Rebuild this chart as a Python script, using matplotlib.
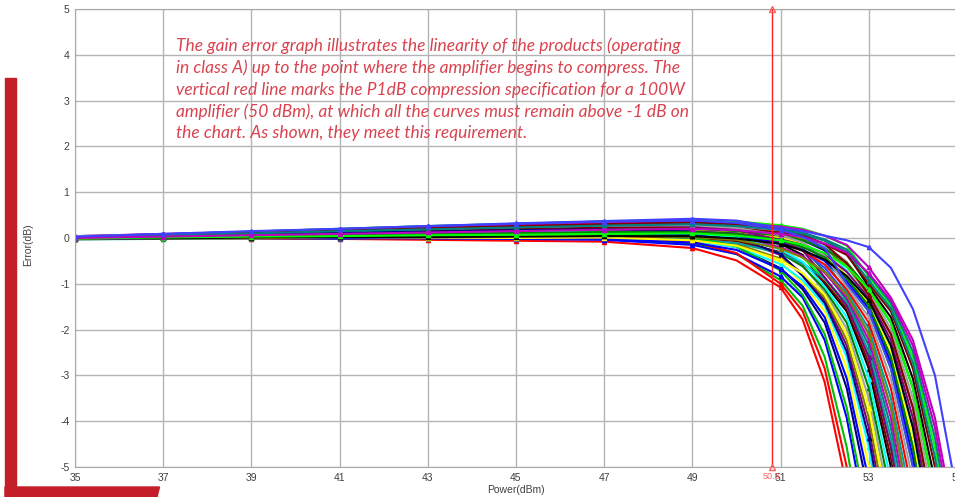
import matplotlib
matplotlib.use("Agg")
import matplotlib.pyplot as plt
from matplotlib.patches import Polygon, Rectangle

plt.rcParams["axes.unicode_minus"] = False

# measured power points (dBm)
power = [35, 37, 39, 41, 43, 45, 47, 49, 50, 51, 51.5, 52, 52.5, 53, 53.5, 54, 54.5, 55]

# gain error (dB) of each unit; a curve stops once it leaves the bottom
curves = [
    [0.01, -0.01, -0.02, -0.02, -0.04, -0.06, -0.08, -0.22, -0.49, -1.08, -1.78, -3.15, -5.42],
    [-0.02, 0.0, 0.01, 0.0, 0.02, 0.01, 0.0, -0.12, -0.35, -0.92, -1.48, -2.6, -4.57, -7.4],
    [0.02, 0.01, 0.0, 0.01, -0.01, -0.02, -0.04, -0.15, -0.35, -0.84, -1.3, -2.23, -3.93, -6.5],
    [0.0, 0.02, 0.03, 0.04, 0.05, 0.06, 0.06, -0.03, -0.2, -0.66, -1.12, -1.85, -3.28, -5.6],
    [0.01, 0.03, 0.04, 0.06, 0.08, 0.09, 0.1, 0.03, -0.12, -0.52, -1.0, -1.6, -2.85, -5.0, -8.0],
    [-0.01, 0.0, -0.01, 0.01, 0.0, 0.01, 0.0, -0.06, -0.2, -0.57, -0.92, -1.48, -2.6, -4.57, -7.4],
    [0.02, 0.04, 0.06, 0.08, 0.1, 0.12, 0.14, 0.09, -0.03, -0.37, -0.79, -1.36, -2.35, -4.14, -6.8],
    [-0.03, -0.01, 0.0, 0.02, 0.03, 0.04, 0.05, -0.01, -0.13, -0.45, -0.79, -1.3, -2.23, -3.93, -6.5],
    [0.01, 0.04, 0.07, 0.1, 0.13, 0.16, 0.19, 0.15, 0.04, -0.25, -0.59, -1.18, -1.98, -3.5, -5.9],
    [0.0, 0.01, 0.03, 0.05, 0.06, 0.08, 0.09, 0.05, -0.05, -0.33, -0.62, -1.12, -1.85, -3.28, -5.6],
    [0.03, 0.06, 0.1, 0.13, 0.17, 0.21, 0.24, 0.21, 0.12, -0.13, -0.37, -1.0, -1.6, -2.85, -5.0, -8.0],
    [0.02, 0.01, 0.03, 0.02, 0.04, 0.05, 0.05, 0.01, -0.07, -0.31, -0.55, -0.96, -1.54, -2.73, -4.79, -7.7],
    [-0.02, 0.01, 0.04, 0.06, 0.09, 0.12, 0.14, 0.11, 0.03, -0.2, -0.42, -0.89, -1.48, -2.6, -4.57, -7.4],
    [0.04, 0.08, 0.12, 0.16, 0.2, 0.25, 0.28, 0.27, 0.19, -0.02, -0.22, -0.73, -1.36, -2.35, -4.14, -6.8],
    [0.0, 0.02, 0.02, 0.04, 0.06, 0.07, 0.09, 0.07, 0.0, -0.2, -0.4, -0.76, -1.3, -2.23, -3.93, -6.5],
    [0.01, 0.03, 0.06, 0.09, 0.12, 0.15, 0.18, 0.17, 0.11, -0.08, -0.28, -0.65, -1.24, -2.1, -3.71, -6.2],
    [0.03, 0.08, 0.13, 0.18, 0.23, 0.28, 0.32, 0.32, 0.26, 0.08, -0.1, -0.49, -1.18, -1.98, -3.5, -5.9],
    [-0.01, 0.02, 0.04, 0.07, 0.09, 0.11, 0.13, 0.13, 0.07, -0.1, -0.28, -0.58, -1.12, -1.85, -3.28, -5.6],
    [0.02, 0.05, 0.09, 0.12, 0.16, 0.2, 0.23, 0.23, 0.18, 0.03, -0.13, -0.37, -1.0, -1.6, -2.85, -5.0, -8.0],
    [0.01, 0.0, 0.02, 0.04, 0.05, 0.07, 0.08, 0.08, 0.03, -0.11, -0.26, -0.5, -0.95, -1.54, -2.73, -4.79, -7.7],
    [0.0, 0.05, 0.1, 0.14, 0.19, 0.23, 0.27, 0.28, 0.24, 0.1, -0.05, -0.27, -0.86, -1.48, -2.6, -4.57, -7.4],
    [0.03, 0.04, 0.07, 0.1, 0.13, 0.16, 0.18, 0.19, 0.14, 0.01, -0.13, -0.35, -0.83, -1.42, -2.48, -4.36, -7.1],
    [0.02, 0.07, 0.12, 0.17, 0.22, 0.27, 0.31, 0.34, 0.29, 0.17, 0.03, -0.17, -0.71, -1.36, -2.35, -4.14, -6.8],
    [-0.02, 0.0, 0.03, 0.06, 0.08, 0.11, 0.13, 0.14, 0.1, -0.03, -0.15, -0.35, -0.74, -1.3, -2.23, -3.93, -6.5],
    [0.01, 0.04, 0.08, 0.11, 0.15, 0.19, 0.22, 0.24, 0.2, 0.08, -0.03, -0.23, -0.62, -1.24, -2.1, -3.71, -6.2],
    [0.03, 0.06, 0.1, 0.15, 0.19, 0.23, 0.27, 0.29, 0.25, 0.14, 0.03, -0.15, -0.52, -1.18, -1.98, -3.5, -5.9],
    [0.0, 0.03, 0.06, 0.09, 0.12, 0.15, 0.18, 0.2, 0.15, 0.05, -0.05, -0.23, -0.54, -1.12, -1.85, -3.28, -5.6],
    [0.02, 0.07, 0.12, 0.17, 0.22, 0.27, 0.31, 0.35, 0.31, 0.21, 0.11, -0.05, -0.34, -1.06, -1.73, -3.07, -5.3],
    [-0.01, 0.03, 0.07, 0.11, 0.15, 0.19, 0.23, 0.25, 0.21, 0.12, 0.03, -0.13, -0.37, -1.0, -1.6, -2.85, -5.0, -8.0],
    [0.03, 0.08, 0.14, 0.2, 0.26, 0.31, 0.36, 0.4, 0.36, 0.28, 0.2, 0.05, -0.17, -0.84, -1.48, -2.6, -4.57, -7.4],
    [0.0, 0.05, 0.1, 0.14, 0.19, 0.24, 0.27, 0.3, 0.27, 0.19, 0.11, -0.03, -0.25, -0.8, -1.42, -2.48, -4.36, -7.1],
    [0.04, 0.09, 0.13, 0.18, 0.23, 0.28, 0.32, 0.35, 0.32, 0.25, 0.18, 0.05, -0.15, -0.64, -1.3, -2.23, -3.93, -6.5],
    [0.02, 0.08, 0.14, 0.2, 0.26, 0.32, 0.37, 0.42, 0.38, 0.22, 0.15, 0.05, -0.05, -0.2, -0.65, -1.55, -3.0, -5.6],
    [-0.03, -0.02, 0.0, -0.01, 0.01, 0.0, -0.01, -0.03, -0.11, -0.33, -0.55, -0.89, -1.42, -2.48, -4.36, -7.1],
    [0.0, 0.01, 0.02, 0.03, 0.03, 0.04, 0.04, -0.08, -0.33, -1.0, -1.6, -2.85, -5.0, -8.0],
    [0.02, 0.03, 0.05, 0.06, 0.08, 0.09, 0.1, 0.01, -0.18, -0.71, -1.24, -2.1, -3.71, -6.2],
    [-0.02, -0.01, 0.0, -0.01, 0.0, -0.01, -0.02, -0.1, -0.26, -0.68, -1.06, -1.73, -3.07, -5.3],
    [0.03, 0.05, 0.08, 0.11, 0.14, 0.17, 0.19, 0.14, 0.01, -0.35, -0.83, -1.42, -2.48, -4.36, -7.1],
    [0.01, -0.01, 0.0, 0.02, 0.01, 0.0, 0.01, -0.05, -0.17, -0.48, -0.77, -1.24, -2.1, -3.71, -6.2],
    [-0.01, 0.02, 0.05, 0.07, 0.1, 0.12, 0.14, 0.11, 0.01, -0.25, -0.52, -1.06, -1.73, -3.07, -5.3],
    [0.02, 0.07, 0.11, 0.16, 0.2, 0.24, 0.28, 0.26, 0.18, -0.05, -0.27, -0.86, -1.48, -2.6, -4.57, -7.4],
    [-0.02, 0.0, 0.01, 0.03, 0.02, 0.04, 0.05, 0.02, -0.04, -0.23, -0.43, -0.74, -1.24, -2.1, -3.71, -6.2],
    [0.04, 0.07, 0.12, 0.16, 0.2, 0.24, 0.27, 0.28, 0.22, 0.06, -0.1, -0.39, -1.06, -1.73, -3.07, -5.3],
    [0.01, 0.02, 0.05, 0.07, 0.09, 0.11, 0.13, 0.13, 0.09, -0.05, -0.2, -0.42, -0.89, -1.48, -2.6, -4.57, -7.4],
    [0.0, -0.01, 0.01, 0.02, 0.02, 0.03, 0.04, 0.04, -0.01, -0.13, -0.27, -0.47, -0.83, -1.36, -2.35, -4.14, -6.8],
    [0.01, 0.06, 0.11, 0.16, 0.21, 0.26, 0.3, 0.34, 0.3, 0.18, 0.07, -0.13, -0.56, -1.24, -2.1, -3.71, -6.2],
    [-0.01, 0.01, 0.03, 0.04, 0.06, 0.07, 0.09, 0.1, 0.05, -0.05, -0.15, -0.33, -0.62, -1.12, -1.85, -3.28, -5.6],
    [0.02, 0.06, 0.1, 0.15, 0.19, 0.23, 0.27, 0.3, 0.26, 0.18, 0.09, -0.06, -0.3, -0.93, -1.54, -2.73, -4.79, -7.7],
    [0.0, 0.03, 0.06, 0.09, 0.12, 0.15, 0.18, 0.2, 0.17, 0.09, 0.02, -0.12, -0.32, -0.77, -1.36, -2.35, -4.14, -6.8],
    [0.03, 0.09, 0.15, 0.2, 0.26, 0.31, 0.36, 0.38, 0.33, 0.18, 0.02, -0.22, -1.0, -1.6, -2.85, -5.0, -8.0],
]

colors = ["#ff0000", "#00c000", "#0000ff", "#000080", "#ffff00", "#00ffff", "#800080",
          "#808000", "#a0a0a0", "#008000", "#000000", "#800000", "#00ff00", "#008080",
          "#c000c0", "#4040ff", "#00a0a0"]

p1db = 50.8
xticks = [35, 37, 39, 41, 43, 45, 47, 49, 51, 53, 55]
yticks = [-5, -4, -3, -2, -1, 0, 1, 2, 3, 4, 5]

note = ("The gain error graph illustrates the linearity of the products (operating\n"
        "in class A) up to the point where the amplifier begins to compress. The\n"
        "vertical red line marks the P1dB compression specification for a 100W\n"
        "amplifier (50 dBm), at which all the curves must remain above -1 dB on\n"
        "the chart. As shown, they meet this requirement.")

fig = plt.figure(figsize=(9.55, 4.97), dpi=100)
ax = fig.add_axes([0.0785, 0.0604, 0.9236, 0.9215])

# markers only on the 2 dB steps
mark_at = [0, 1, 2, 3, 4, 5, 6, 7, 9, 13]
for i, y in enumerate(curves):
    x = power[:len(y)]
    ax.plot(x, y, color=colors[i % len(colors)], lw=1.5, marker="^", ms=3,
            markevery=[m for m in mark_at if m < len(y)], zorder=2)

ax.axvline(p1db, color="#ff2020", lw=1, zorder=3)
ax.plot([p1db], [5], marker="^", ms=4, mfc="none", mec="#ff6060", clip_on=False, zorder=4)
ax.plot([p1db], [-5], marker="^", ms=4, mfc="none", mec="#ff6060", clip_on=False, zorder=4)
ax.text(p1db, -5.12, "50.8", color="#ff6060", fontsize=6.5, ha="center", va="top",
        family="Liberation Sans")

ax.set_xlim(35, 55)
ax.set_ylim(-5, 5)
ax.set_xticks(xticks)
ax.set_yticks(yticks)
ax.grid(True, color="#b4b4b4", lw=1)
ax.set_axisbelow(True)
for s in ax.spines.values():
    s.set_color("#a8a8a8")
ax.tick_params(length=0, labelsize=7.5, colors="#404040", pad=4)
for lab in ax.get_xticklabels() + ax.get_yticklabels():
    lab.set_family("Liberation Sans")
ax.set_xlabel("Power(dBm)", fontsize=7.5, color="#404040", family="Liberation Sans", labelpad=2)
fig.text(28 / 955, 1 - 245 / 497, "Error(dB)", rotation=90, fontsize=7.5, color="#404040",
         family="Liberation Sans", ha="center", va="center")

ax.text(0.1145, 0.937, note, transform=ax.transAxes, fontsize=12.5, color="#d9434f",
        family="Lato", style="italic", va="top", ha="left", linespacing=1.4, zorder=6)

# red decoration at the left and bottom
red = "#c41e2a"
fig.patches.append(Rectangle((5 / 955, 0), 11 / 955, 1 - 78 / 497, transform=fig.transFigure,
                             color=red, zorder=5))
fig.patches.append(Polygon([(5 / 955, 0), (157 / 955, 0), (159.5 / 955, 10 / 497), (5 / 955, 10 / 497)],
                           closed=True, transform=fig.transFigure, color=red, zorder=5))

fig.savefig("out.png", dpi=100)
